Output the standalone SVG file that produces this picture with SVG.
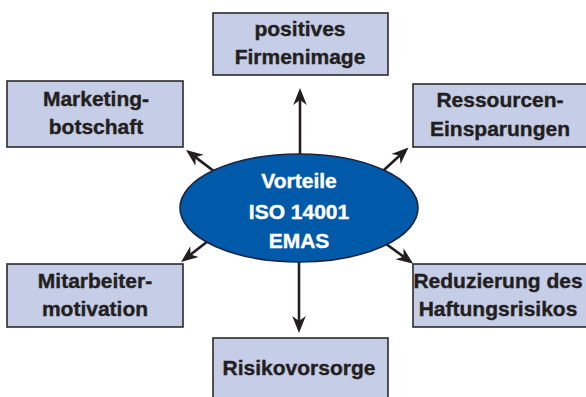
<svg xmlns="http://www.w3.org/2000/svg" width="586" height="397" viewBox="0 0 586 397">
<style>
.box{fill:#c6cde7;stroke:#2b2b2b;stroke-width:1.6}
.t{font-family:"Liberation Sans",Arial,sans-serif;font-weight:bold;font-size:21px;fill:#231f20;stroke:#231f20;stroke-width:0.4;text-anchor:middle}
.w{fill:#ffffff;stroke:#ffffff}
.c{stroke:#231f20;stroke-width:2.6;fill:none}
</style>
<defs>
<marker id="ah" markerUnits="userSpaceOnUse" viewBox="-18 -8 19 16" refX="-6" refY="0" markerWidth="19" markerHeight="16" orient="auto">
<path d="M0,0 L-17,-6.8 L-12,0 L-17,6.8 Z" fill="#231f20"/>
</marker>
</defs>
<rect width="586" height="397" fill="#ffffff"/>
<g id="connectors">
<line class="c" x1="300" y1="200" x2="300" y2="94" marker-end="url(#ah)"/>
<line class="c" x1="299" y1="220" x2="299" y2="327" marker-end="url(#ah)"/>
<line class="c" x1="240" y1="191" x2="190.8" y2="153.6" marker-end="url(#ah)"/>
<line class="c" x1="360" y1="192" x2="404.1" y2="151.5" marker-end="url(#ah)"/>
<line class="c" x1="235" y1="220" x2="185.8" y2="258.3" marker-end="url(#ah)"/>
<line class="c" x1="360" y1="225" x2="408.4" y2="260.2" marker-end="url(#ah)"/>
</g>
<g id="center">
<ellipse cx="299" cy="208" rx="119" ry="54" fill="#0059a9" stroke="#1b2540" stroke-width="1.6"/>
<text class="t w" x="299" y="188">Vorteile</text>
<text class="t w" x="299" y="219">ISO 14001</text>
<text class="t w" x="299" y="248">EMAS</text>
</g>
<g id="firmenimage">
<rect class="box" x="213" y="13" width="175" height="62"/>
<text class="t" x="300" y="36">positives</text>
<text class="t" x="300" y="64">Firmenimage</text>
</g>
<g id="marketing">
<rect class="box" x="7" y="81" width="176" height="66"/>
<text class="t" x="96" y="106">Marketing-</text>
<text class="t" x="96" y="134">botschaft</text>
</g>
<g id="ressourcen">
<rect class="box" x="413" y="84" width="176" height="63"/>
<text class="t" x="500" y="107">Ressourcen-</text>
<text class="t" x="500" y="136">Einsparungen</text>
</g>
<g id="mitarbeiter">
<rect class="box" x="7" y="264" width="176" height="63"/>
<text class="t" x="95" y="288">Mitarbeiter-</text>
<text class="t" x="95" y="316">motivation</text>
</g>
<g id="haftung">
<rect class="box" x="413" y="264" width="176" height="63"/>
<text class="t" x="498" y="288" font-size="20.5">Reduzierung des</text>
<text class="t" x="498" y="316">Haftungsrisikos</text>
</g>
<g id="risiko">
<rect class="box" x="213" y="338" width="175" height="64"/>
<text class="t" x="299" y="375">Risikovorsorge</text>
</g>
</svg>
